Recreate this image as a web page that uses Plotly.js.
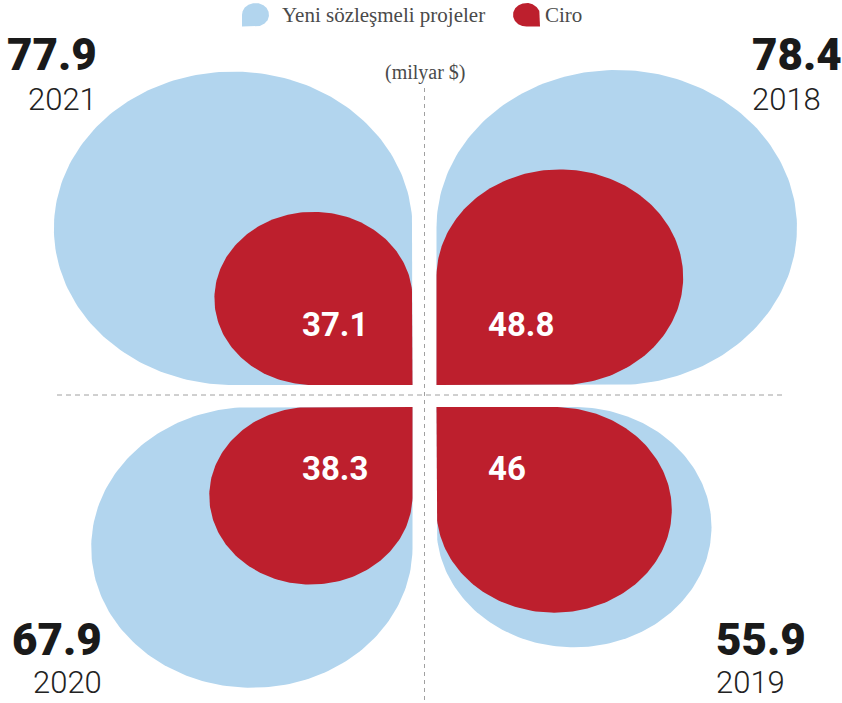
<!DOCTYPE html>
<html><head><meta charset="utf-8">
<script src="https://cdn.plot.ly/plotly-3.0.1.min.js"></script>
<style>html,body{margin:0;padding:0;background:#fff}#chart{width:842px;height:703px}</style>
</head><body><div id="chart"></div>
<script>
// ---- data ----
const years = ['2018', '2019', '2020', '2021'];
const projects = [78.4, 55.9, 67.9, 77.9];   // Yeni sözleşmeli projeler
const revenue = [48.8, 46, 38.3, 37.1];      // Ciro
const seriesNames = ['Yeni sözleşmeli projeler', 'Ciro'];
const unitLabel = '(milyar $)';

// ---- layout constants ----
const W = 842, H = 703, OX = 424.5, OY = 396;
const quadX = [1, 1, -1, -1], quadY = [1, -1, -1, 1];   // TR, BR, BL, TL
const GX = 12, GY = 11;
const K = 11.0, P = 0.8, ASPECT = 0.874;
const BLUE = '#b2d5ee', RED = '#bd1f2d';
const bigX = [325.5, 289, -320.5, -326];   // label anchor x per quadrant
const bigY = [341, -244, -244, 341];
const yearY = [297, -286, -286, 297];

function radii(v) { const rx = 0.5 * K * Math.pow(v, P); return [rx, rx * ASPECT]; }
function teardrop(x0, y0, sx, sy, rx, ry) {
  const cx = x0 + sx * rx, cy = y0 + sy * ry;
  const a0 = Math.atan2(-sy, -sx) * 180 / Math.PI - 45;
  const xs = [x0], ys = [y0];
  for (let d = 90; d <= 360; d += 1.5) {
    const t = (a0 + d) * Math.PI / 180;
    xs.push(cx + rx * Math.cos(t)); ys.push(cy + ry * Math.sin(t));
  }
  xs.push(x0); ys.push(y0);
  return { x: xs, y: ys };
}
function shapeTrace(p, color, name) {
  return { type: 'scatter', mode: 'lines', x: p.x, y: p.y, fill: 'toself', fillcolor: color,
    line: { width: 0, color: color }, hoverinfo: 'skip', showlegend: false, name: name };
}

const traces = [];
const annotations = [];
years.forEach((yr, i) => {
  const sx = quadX[i], sy = quadY[i];
  const [bx, by] = radii(projects[i]);
  traces.push(shapeTrace(teardrop(sx * GX, sy * GY, sx, sy, bx, by), BLUE, seriesNames[0]));
  const [rx, ry] = radii(revenue[i]);
  traces.push(shapeTrace(teardrop(sx * GX, sy * GY, sx, sy, rx, ry), RED, seriesNames[1]));
  annotations.push({ x: sx > 0 ? 61 : -55, y: sy * 72, text: String(revenue[i]), xanchor: sx > 0 ? 'left' : 'right',
    yanchor: 'middle', showarrow: false, font: { family: 'Roboto', size: 33, weight: 700, color: '#ffffff' } });
  annotations.push({ x: bigX[i], y: bigY[i], text: String(projects[i]), xanchor: sx > 0 ? 'left' : 'right',
    yanchor: 'middle', showarrow: false, font: { family: 'Roboto', size: 44, weight: 900, color: '#1a1a1a' } });
  annotations.push({ x: bigX[i], y: yearY[i], text: yr, xanchor: sx > 0 ? 'left' : 'right',
    yanchor: 'middle', showarrow: false, font: { family: 'Roboto', size: 31, weight: 300, color: '#222222' } });
});

// legend icons + texts
const icR = 13.5;
traces.push(shapeTrace(teardrop(-182.5, 369.4, 1, 1, icR, icR * ASPECT), BLUE, seriesNames[0]));
traces.push(shapeTrace(teardrop(115.5, 369.4, -1, 1, icR, icR * ASPECT), RED, seriesNames[1]));
annotations.push({ x: -145, y: 381, text: seriesNames[0], xanchor: 'left', yanchor: 'middle', showarrow: false,
  font: { family: 'Liberation Serif', size: 21, color: '#4a4a4a' } });
annotations.push({ x: 118, y: 381, text: seriesNames[1], xanchor: 'left', yanchor: 'middle', showarrow: false,
  font: { family: 'Liberation Serif', size: 21, color: '#4a4a4a' } });
annotations.push({ x: 0.5, y: 324, text: unitLabel, xanchor: 'center', yanchor: 'middle', showarrow: false,
  font: { family: 'Liberation Serif', size: 20, color: '#4a4a4a' } });

const layout = {
  width: W, height: H, margin: { l: 0, r: 0, t: 0, b: 0 },
  paper_bgcolor: '#ffffff', plot_bgcolor: '#ffffff', showlegend: false,
  xaxis: { range: [-OX, W - OX], visible: false, fixedrange: true },
  yaxis: { range: [OY - H, OY], visible: false, fixedrange: true },
  shapes: [
    { type: 'line', x0: 0, x1: 0, y0: 308, y1: OY - H, line: { color: '#a0a0a0', width: 1, dash: '4px,4px' }, layer: 'below' },
    { type: 'line', x0: -367.5, x1: 357.5, y0: 1, y1: 1, line: { color: '#a0a0a0', width: 1, dash: '5px,4px' }, layer: 'below' }
  ],
  annotations: annotations
};
Plotly.newPlot('chart', traces, layout, { displayModeBar: false, staticPlot: true });
</script></body></html>
